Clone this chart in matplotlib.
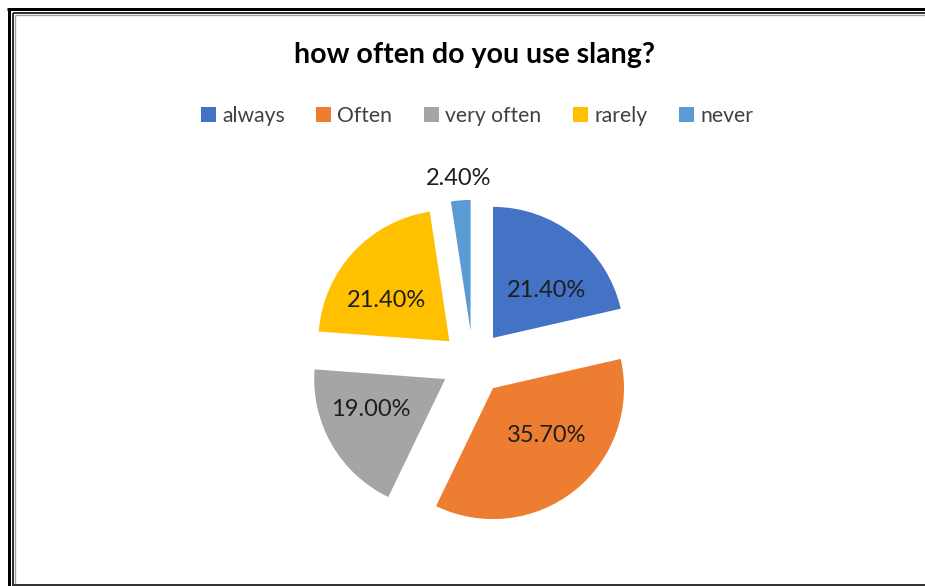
import matplotlib
matplotlib.use("Agg")
import matplotlib.pyplot as plt
from matplotlib.lines import Line2D
from matplotlib.patches import Patch
import numpy as np

categories = ["always", "Often", "very often", "rarely", "never"]
values = [21.4, 35.7, 19.0, 21.4, 2.4]
labels_pct = ["21.40%", "35.70%", "19.00%", "21.40%", "2.40%"]
colors = ["#4472C4", "#ED7D31", "#A5A5A5", "#FFC000", "#5B9BD5"]
title = "how often do you use slang?"

W, H = 925, 586
fig = plt.figure(figsize=(W / 100, H / 100), dpi=100)
plt.rcParams['font.family'] = ['Lato', 'DejaVu Sans']

# pie geometry (pixels)
cx, cy, r = 473, 363, 131
ax = fig.add_axes([0, 0, 1, 1])
wedges, _ = ax.pie(values, colors=colors, startangle=90, counterclock=False,
                   explode=[0.245] * len(values), radius=1.0,
                   wedgeprops=dict(linewidth=0))
ax.set_aspect('auto')
ax.set_xlim(-cx / r, (W - cx) / r)
ax.set_ylim(-(H - cy) / r, cy / r)
ax.axis('off')

for w, lab in zip(wedges, labels_pct):
    mid = np.deg2rad((w.theta1 + w.theta2) / 2)
    x0, y0 = w.center
    if lab == "2.40%":
        dx, dy = 1.17 * np.cos(mid), 1.17 * np.sin(mid)
    else:
        # labels kept horizontally spread inside the wedge
        dx, dy = 0.56 * 1.17 * np.cos(mid), 0.56 * 0.82 * np.sin(mid)
    ax.text(x0 + dx, y0 + dy, lab,
            ha='center', va='center', fontsize=17, color='#1e1e1e')

fig.text(474 / W, 1 - 55 / H, title, ha='center', va='center',
         fontsize=20.5, fontweight='bold', color='black')

handles = [Patch(facecolor=c, edgecolor='none') for c in colors]
fig.legend(handles, categories, loc='center', bbox_to_anchor=(477 / W, 1 - 116 / H),
           ncol=5, frameon=False, fontsize=15.2, handlelength=0.7, handleheight=0.7,
           handletextpad=0.3, columnspacing=1.5, labelcolor='#404040')

# frame lines (figure pixel coordinates)
def px_line(xs, ys, color, lw):
    fig.add_artist(Line2D([x / W for x in xs], [1 - y / H for y in ys],
                          transform=fig.transFigure, color=color, linewidth=lw * 0.72,
                          solid_capstyle='butt'))

px_line([8.5, 8.5], [8.5, H], 'black', 3)
px_line([7, W], [8.5, 8.5], 'black', 3)
px_line([13.3, 13.3], [13, H], 'black', 1.6)
px_line([12.5, W], [13.3, 13.3], 'black', 1.6)
px_line([15.3, 15.3], [15, H], '#a0a0a0', 1.3)
px_line([14.5, W], [15.3, 15.3], '#a0a0a0', 1.3)
px_line([13, W], [585, 585], '#333333', 2)

fig.savefig("out.png", dpi=100)
